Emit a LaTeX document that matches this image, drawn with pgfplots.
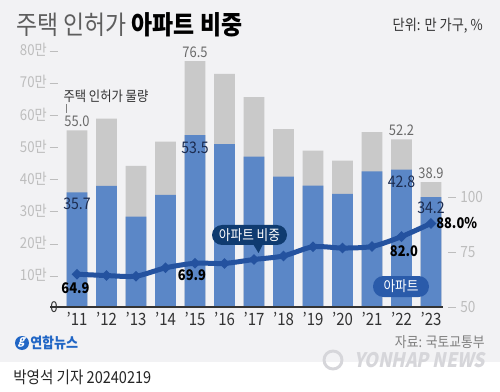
\documentclass[border=0pt]{standalone}
\usepackage{fontspec}
\setmainfont{Noto Sans CJK KR}[FakeStretch=0.88]
\usepackage{pgfplots}
\pgfplotsset{compat=1.18}
\definecolor{bg}{HTML}{F2F2F4}
\definecolor{graybar}{HTML}{C9C9C9}
\definecolor{bluebar}{HTML}{5B87C7}
\definecolor{linecol}{HTML}{24529F}
\definecolor{markcol}{HTML}{18407F}
\definecolor{pillA}{HTML}{0F3B70}
\definecolor{pillB}{HTML}{2A5BAA}
\definecolor{tickgray}{HTML}{BDBDBD}
\definecolor{xtc}{HTML}{333333}
\definecolor{graylbl}{HTML}{6A6A6A}
\definecolor{navylbl}{HTML}{1C2C50}
\definecolor{titlegray}{HTML}{5E5E5E}
\definecolor{logoblue}{HTML}{2166C5}
\definecolor{wm}{HTML}{D6D6DA}
\newcommand{\fs}[1]{\fontsize{#1}{#1}\selectfont}
\newcommand{\ld}{\rule[0.28em]{6pt}{0.6pt}}
\begin{document}
\begin{tikzpicture}
% background and header/footer (pixel coordinates, origin top-left)
\begin{scope}[x=0.75pt,y=-0.75pt]
\fill[bg] (0,0) rectangle (500,362);
\fill[white] (0,362) rectangle (500,392);
\node[anchor=west,inner sep=0pt] at (16,25) {\fs{19.5pt}\color{titlegray}주택 인허가 \color{black}\bfseries 아파트 비중};
\node[anchor=east,inner sep=0pt] at (483,26) {\fs{11.25pt}\color{xtc}단위: 만 가구, \%};
\node[inner sep=0pt] at (106,96) {\fs{10.5pt}\color{xtc}주택 인허가 물량};
\draw[gray,line width=0.6pt] (66.5,104) -- (66.5,113);
% footer
\fill[logoblue] (22,343) circle (7);
\node[inner sep=0pt,xslant=0.3] at (22,342.5) {\fs{9pt}\bfseries\color{white}g};
\node[anchor=west,inner sep=0pt] at (30,343) {\fs{11.1pt}\bfseries\color{logoblue}연합뉴스};
\node[anchor=east,inner sep=0pt] at (485,342) {\fs{10.9pt}\color{gray}자료: 국토교통부};
\draw[wm,line width=2.2pt] (333,360) circle (9);
\node[anchor=east,inner sep=0pt,xslant=0.2] at (487,360.5) {\fs{15pt}\bfseries\color{wm}YONHAP NEWS};
\node[anchor=west,inner sep=0pt] at (13,377) {\fs{12.4pt}\color{black!85}박영석 기자 20240219};
\end{scope}

% bars (left axis)
\begin{axis}[
 at={(37.5pt,-230.25pt)}, anchor=south west,
 width=294.75pt, height=192.75pt, scale only axis,
 xmin=-0.915, xmax=12.407, ymin=0, ymax=80,
 axis line style={draw=none},
 major tick length=0pt,
 xtick={0,...,12},
 xticklabels={'11,'12,'13,'14,'15,'16,'17,'18,'19,'20,'21,'22,'23},
 xticklabel style={font=\fs{12.75pt}, text=xtc, inner sep=0pt, anchor=north, yshift=-3.5pt},
 ytick={0,10,20,30,40,50,60,70,80},
 yticklabels={{\color{xtc}0}\hspace{9.75pt},{10만\hspace{2.25pt}\ld},{20만\hspace{2.25pt}\ld},{30만\hspace{2.25pt}\ld},{40만\hspace{2.25pt}\ld},{50만\hspace{2.25pt}\ld},{60만\hspace{2.25pt}\ld},{70만\hspace{2.25pt}\ld},{80만\hspace{2.25pt}\ld}},
 yticklabel style={font=\fs{11.25pt}, text=tickgray, inner sep=0pt, anchor=east, xshift=6pt},
 clip=false,
]
\addplot[ybar, bar width=15.4pt, bar shift=0pt, fill=graybar, draw=none] coordinates {
(0,55.0) (1,58.6) (2,43.9) (3,51.5) (4,76.5) (5,72.6) (6,65.3) (7,55.4) (8,48.7) (9,45.6) (10,54.4) (11,52.2) (12,38.9)};
\addplot[ybar, bar width=15.4pt, bar shift=0pt, fill=bluebar, draw=none] coordinates {
(0,35.7) (1,37.7) (2,28.1) (3,34.9) (4,53.5) (5,50.7) (6,46.8) (7,40.6) (8,37.8) (9,35.2) (10,42.2) (11,42.8) (12,34.2)};
\draw[xtc, line width=1.1pt] (rel axis cs:0,0) -- (rel axis cs:1,0);
\node[anchor=base, inner sep=0pt, yshift=2.6pt, font=\fs{11pt}, text=graylbl] at (axis cs:0,55.0) {55.0};
\node[anchor=base, inner sep=0pt, yshift=2.6pt, font=\fs{11pt}, text=graylbl] at (axis cs:4,76.5) {76.5};
\node[anchor=base, inner sep=0pt, yshift=2.6pt, font=\fs{11pt}, text=graylbl] at (axis cs:11,52.2) {52.2};
\node[anchor=base, inner sep=0pt, yshift=2.6pt, font=\fs{11pt}, text=graylbl] at (axis cs:12,38.9) {38.9};
\node[anchor=base, inner sep=0pt, yshift=-13.1pt, font=\fs{12pt}, text=navylbl] at (axis cs:0,35.7) {35.7};
\node[anchor=base, inner sep=0pt, yshift=-13.5pt, font=\fs{12pt}, text=navylbl] at (axis cs:4,53.5) {53.5};
\node[anchor=base, inner sep=0pt, yshift=-13.5pt, font=\fs{12pt}, text=navylbl] at (axis cs:11,42.8) {42.8};
\node[anchor=base, inner sep=0pt, yshift=-12pt, font=\fs{12pt}, text=navylbl] at (axis cs:12,34.2) {34.2};
\end{axis}

% share line (right axis)
\begin{axis}[
 at={(37.5pt,-230.25pt)}, anchor=south west,
 width=294.75pt, height=192.75pt, scale only axis,
 xmin=-0.915, xmax=12.407, ymin=50, ymax=166.82,
 axis line style={draw=none},
 major tick length=0pt,
 xtick=\empty,
 ytick={50,75,100},
 yticklabel pos=right,
 yticklabels={{\ld\hspace{3pt}50},{\ld\hspace{3pt}75},{\ld\hspace{3pt}100}},
 yticklabel style={font=\fs{11.6pt}, text=tickgray, inner sep=0pt, anchor=west, xshift=3.75pt},
 clip=false,
]
\addplot[smooth, tension=0.45, line width=3.75pt, color=linecol, line cap=round,
 mark=*, mark size=1.4pt, mark options={fill=markcol, draw=none}] coordinates {
(0,64.9) (1,64.3) (2,64.0) (3,67.8) (4,69.9) (5,69.8) (6,71.6) (7,73.2) (8,77.4) (9,76.8) (10,77.5) (11,82.0) (12,88.0)};
\node[inner sep=0pt, xshift=-1.1pt, yshift=-10.5pt, font=\fs{11pt}\bfseries, text=black] at (axis cs:0,64.9) {64.9};
\node[inner sep=0pt, xshift=-2.25pt, yshift=-9.2pt, font=\fs{11pt}\bfseries, text=black] at (axis cs:4,69.9) {69.9};
\node[inner sep=0pt, xshift=1.9pt, yshift=-10.8pt, font=\fs{11pt}\bfseries, text=black] at (axis cs:11,82.0) {82.0};
\node[anchor=west, inner sep=0pt, xshift=3.75pt, font=\fs{11pt}\bfseries, text=black] at (axis cs:12,88.0) {88.0\%};
\end{axis}

% callout pills
\begin{scope}[x=0.75pt,y=-0.75pt]
\fill[pillA, rounded corners=7.5pt] (212,225) rectangle (287,245);
\fill[pillA] (253,244) -- (263,244) -- (258.5,253) -- cycle;
\node[inner sep=0pt] at (249.5,235.5) {\fs{10.8pt}\color{white}아파트 비중};
\fill[pillB, rounded corners=7.8pt] (373,276) rectangle (429,297);
\node[inner sep=0pt] at (401,286.5) {\fs{10.8pt}\color{white}아파트};
\pgfresetboundingbox
\useasboundingbox (0,0) rectangle (500,392);
\end{scope}
\end{tikzpicture}
\end{document}
